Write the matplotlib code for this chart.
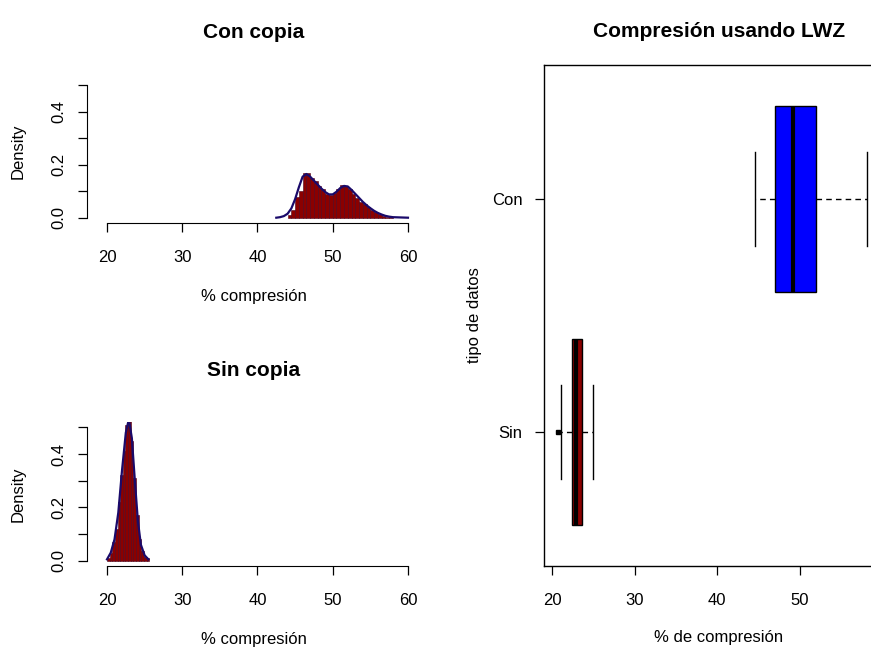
import matplotlib
matplotlib.use("Agg")
import matplotlib.pyplot as plt
import numpy as np

plt.rcParams["font.family"] = ["Liberation Sans", "DejaVu Sans"]

# histogram of % compression with copies (breaks, density per bin)
con_breaks = [44.0, 44.5, 45.0, 45.5, 46.0, 46.5, 47.0, 47.5, 48.0, 48.5,
              49.0, 49.5, 50.0, 50.5, 51.0, 51.5, 52.0, 52.5, 53.0, 53.5,
              54.0, 54.5, 55.0, 55.5, 56.0, 56.5, 57.0, 57.5, 58.0]
con_dens = [0.01, 0.03, 0.08, 0.10, 0.17, 0.17, 0.15, 0.14, 0.12, 0.11,
            0.09, 0.085, 0.095, 0.11, 0.125, 0.12, 0.11, 0.09, 0.075, 0.06,
            0.05, 0.04, 0.03, 0.02, 0.015, 0.008, 0.004, 0.002]
# kernel density estimate drawn over it
con_kde_x = [42.5, 43.0, 43.5, 44.0, 44.5, 45.0, 45.5, 46.0, 46.5, 47.0,
             47.5, 48.0, 48.5, 49.0, 49.5, 50.0, 50.5, 51.0, 51.5, 52.0,
             52.5, 53.0, 53.5, 54.0, 54.5, 55.0, 55.5, 56.0, 56.5, 57.0,
             57.5, 58.0, 59.0, 60.0]
con_kde_y = [0.0, 0.002, 0.006, 0.015, 0.035, 0.07, 0.115, 0.155, 0.165, 0.155,
             0.14, 0.125, 0.11, 0.097, 0.088, 0.088, 0.098, 0.112, 0.12, 0.118,
             0.105, 0.09, 0.075, 0.06, 0.047, 0.036, 0.026, 0.018, 0.012, 0.007,
             0.004, 0.002, 0.001, 0.0]

# histogram of % compression without copies
sin_breaks = [20.0, 20.35, 20.7, 21.05, 21.4, 21.75, 22.1, 22.45, 22.8, 23.15,
              23.5, 23.85, 24.2, 24.55, 24.9, 25.25, 25.6]
sin_dens = [0.01, 0.03, 0.07, 0.12, 0.22, 0.32, 0.41, 0.51, 0.54, 0.45,
            0.31, 0.17, 0.08, 0.035, 0.015, 0.01]
sin_kde_x = [20.0, 20.5, 21.0, 21.5, 22.0, 22.5, 22.9, 23.3, 23.7, 24.1, 24.5, 25.0, 25.5]
sin_kde_y = [0.005, 0.03, 0.08, 0.18, 0.34, 0.48, 0.53, 0.46, 0.30, 0.15, 0.06, 0.02, 0.005]

# boxplot summaries: whisker low, Q1, median, Q3, whisker high, outliers
groups = ["Sin", "Con"]
box_stats = {
    "Sin": dict(whislo=21.1, q1=22.45, med=22.95, q3=23.65, whishi=25.0, fliers=[20.7]),
    "Con": dict(whislo=44.6, q1=47.0, med=49.2, q3=52.0, whishi=58.1, fliers=[]),
}
box_colors = {"Sin": "#8b0000", "Con": "#0000ff"}

W, H = 871, 648
fig = plt.figure(figsize=(W / 100, H / 100), dpi=100)


def px_axes(left, top, right, bottom):
    return fig.add_axes([left / W, 1 - bottom / H, (right - left) / W, (bottom - top) / H])


def r_hist(ax, breaks, dens, kde_x, kde_y, title, title_pad):
    widths = np.diff(breaks)
    ax.bar(breaks[:-1], dens, width=widths, align="edge",
           color="#8b0000", edgecolor="#4a0018", linewidth=0.4)
    ax.plot(kde_x, kde_y, color="#1a0a6a", linewidth=1.6)
    ax.set_xlim(17.34, 61.6)
    ax.set_ylim(-0.02, 0.52)
    for s in ("top", "right"):
        ax.spines[s].set_visible(False)
    ax.spines["left"].set_bounds(0, 0.5)
    ax.spines["bottom"].set_bounds(20, 60)
    ax.set_xticks([20, 30, 40, 50, 60])
    ax.set_yticks([0, 0.1, 0.2, 0.3, 0.4, 0.5])
    ax.set_yticklabels(["0.0", "", "0.2", "", "0.4", ""])
    ax.tick_params(axis="both", direction="out", length=6.5, width=0.9, labelsize=12)
    ax.tick_params(axis="x", pad=13)
    ax.tick_params(axis="y", pad=8)
    for lab in ax.get_yticklabels():
        lab.set_rotation(90)
        lab.set_va("center")
    ax.set_xlabel("% compresión", fontsize=12, labelpad=17)
    ax.set_ylabel("Density", fontsize=12, labelpad=19)
    ax.set_title(title, fontsize=15, fontweight="bold", pad=title_pad)


ax1 = px_axes(87, 80, 420, 223)
r_hist(ax1, con_breaks, con_dens, con_kde_x, con_kde_y, "Con copia", 30)

ax2 = px_axes(87, 422, 420, 566)
r_hist(ax2, sin_breaks, sin_dens, sin_kde_x, sin_kde_y, "Sin copia", 33)

# the boxplot panel runs past the right edge of the canvas
ax3 = px_axes(544, 65, 894, 566)
stats = []
for g in groups:
    st = dict(box_stats[g])
    st["label"] = g
    stats.append(st)
bp = ax3.bxp(stats, positions=[1, 2], widths=0.8, orientation="horizontal",
             patch_artist=True, manage_ticks=False,
             boxprops=dict(edgecolor="black", linewidth=1),
             medianprops=dict(color="black", linewidth=3, solid_capstyle="butt"),
             whiskerprops=dict(color="black", linewidth=1, linestyle=(0, (4, 3))),
             capprops=dict(color="black", linewidth=1),
             flierprops=dict(marker="s", markersize=3, markerfacecolor="black",
                             markeredgecolor="black"),
             capwidths=0.4)
for patch, g in zip(bp["boxes"], groups):
    patch.set_facecolor(box_colors[g])
ax3.set_xlim(19.03, 61.4)
ax3.set_ylim(0.425, 2.575)
ax3.set_yticks([1, 2])
ax3.set_yticklabels(groups)
ax3.set_xticks([20, 30, 40, 50])
ax3.tick_params(axis="both", direction="out", length=6.5, width=0.9, labelsize=12)
ax3.tick_params(axis="x", pad=13)
ax3.tick_params(axis="y", pad=9)
for s in ax3.spines.values():
    s.set_linewidth(1)
ax3.set_xlabel("% de compresión", fontsize=12, labelpad=16)
ax3.set_ylabel("tipo de datos", fontsize=12, labelpad=7)
ax3.set_title("Compresión usando LWZ", fontsize=15, fontweight="bold", pad=20)

fig.savefig("out.png", dpi=100)
